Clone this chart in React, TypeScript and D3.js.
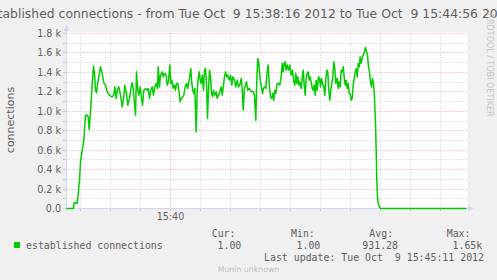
import React from "react";
import * as d3 from "d3";

const W = 497;
const H = 280;

const titleText =
  "established connections - from Tue Oct  9 15:38:16 2012 to Tue Oct  9 15:44:56 2012";
const yAxisLabel = "connections";
const startTime = new Date(2012, 9, 9, 15, 38, 16);
const endTime = new Date(2012, 9, 9, 15, 44, 56);

// seconds after 15:38:16
const sampleOffsets = [
  0, 7, 7.5, 9, 10, 10.7, 11.7, 13, 14, 15.7, 17.3, 19, 20.7, 21.7, 22.7, 24, 25.7, 27, 28, 29, 30, 31,
  32.3, 34, 35.7, 37.3, 39, 40.7, 42.3, 44, 45.7, 47.3, 48.3, 49.7, 50.7, 52.3, 54, 55.7, 57.3, 58.3,
  59.7, 61.3, 63, 64.7, 65.7, 66.7, 68, 69, 70, 71, 72.3, 73.7, 75, 76, 77.3, 79, 80.7, 81.7, 83, 84.3,
  85.7, 87, 88.3, 89.7, 91, 91.7, 93, 94, 95.7, 96.7, 98, 99.7, 100.7, 102, 103.3, 104.3, 105.3, 106.7,
  108, 109, 110, 111.3, 112.7, 113.7, 114.7, 116.3, 117.3, 118.7, 120, 121.3, 122.3, 123.3, 124.3,
  125.3, 126.3, 127.3, 128.3, 129.7, 130.7, 131.7, 132.7, 133.7, 134.7, 135.7, 137, 138, 139, 140, 141,
  142, 143, 144, 145, 146, 147, 148.3, 149.7, 150.7, 152, 153.3, 154.7, 155.7, 157, 158, 159, 160.3,
  161.3, 162.7, 164, 165.3, 166.3, 168, 169.3, 170.7, 172, 173.3, 174.7, 175.7, 176.7, 178, 179, 180,
  181.3, 182.7, 184, 185.3, 186.7, 188, 189.3, 190.3, 191.3, 192.3, 193.7, 194.7, 196, 197, 198, 199.3,
  200.7, 201.7, 202.7, 204, 205.3, 206.3, 207.3, 208.3, 209.3, 210.7, 212, 213.3, 214.7, 215.7, 216.7,
  217.7, 218.7, 219.7, 220.7, 222, 223.3, 224.7, 226, 227.3, 228.3, 229.3, 230.3, 231.3, 232.3, 233.3,
  234.7, 235.7, 236.7, 237.7, 238.7, 239.7, 240.7, 241.7, 242.7, 243.7, 244.7, 245.7, 246.7, 247.7,
  248.7, 249.7, 250.7, 252, 253, 254, 255, 256, 257.3, 258.3, 259.3, 260.3, 261.3, 262.3, 263.3, 264.3,
  265.3, 266.3, 267.3, 268.3, 269.3, 270.7, 271.7, 272.7, 273.7, 274.7, 275.7, 276.7, 277.7, 278.7,
  279.7, 280.7, 281.7, 282.7, 283.7, 284.7, 285.7, 286.7, 287.7, 288.7, 289.7, 290.7, 291.7, 292.7,
  293.7, 294.7, 295.7, 296.7, 298, 299, 300, 301, 302, 303, 304, 305, 306, 307, 308, 309, 309.7, 310.3,
  311, 311.7, 313, 314, 400,
];

const sampleValues = [
  1, 1, 58, 62, 60, 50, 154, 290, 480, 600, 700, 960, 960, 940, 813, 994, 1286, 1464, 1389, 1217, 1190,
  1269, 1354, 1457, 1389, 1293, 1269, 1200, 1176, 1156, 1149, 1166, 1251, 1132, 1217, 1251, 1166, 1045,
  1149, 1269, 1200, 1063, 1132, 1251, 1293, 1235, 1080, 960, 1406, 1235, 1166, 1251, 1132, 1063, 1217,
  1235, 1217, 1235, 1132, 1217, 1251, 1166, 1251, 1286, 1235, 1457, 1251, 1372, 1406, 1354, 1389, 1372,
  1269, 1303, 1475, 1286, 1320, 1235, 1269, 1217, 1286, 1286, 1183, 1097, 1132, 1149, 1166, 1251, 1286,
  1235, 1303, 1354, 1440, 1286, 1217, 1183, 1235, 788, 1217, 1338, 1406, 1320, 1286, 1372, 1217, 1423,
  1440, 1286, 926, 1217, 1423, 1354, 1183, 1149, 1217, 1166, 1200, 1132, 1166, 1200, 1251, 1166, 1269,
  1354, 1406, 1354, 1372, 1320, 1372, 1269, 1354, 1320, 1251, 1320, 1251, 1269, 1338, 1235, 1012, 1235,
  1269, 1303, 1217, 1235, 1217, 1200, 1200, 1166, 909, 1320, 1544, 1492, 1320, 1269, 1183, 1235, 1251,
  1235, 1406, 1475, 1286, 1149, 1132, 1183, 1114, 1217, 1183, 1286, 1286, 1269, 1354, 1492, 1406, 1492,
  1509, 1423, 1475, 1423, 1475, 1372, 1423, 1303, 1269, 1389, 1286, 1354, 1269, 1303, 1235, 1338, 1423,
  1269, 1166, 1338, 1389, 1406, 1320, 1354, 1303, 1235, 1217, 1269, 1166, 1320, 1217, 1354, 1338, 1251,
  1338, 1286, 1251, 1166, 1320, 1423, 1406, 1217, 1114, 1217, 1286, 1354, 1509, 1440, 1286, 1338, 1235,
  1303, 1251, 1423, 1406, 1457, 1354, 1269, 1320, 1235, 1286, 1183, 1183, 1114, 1132, 1269, 1338, 1406,
  1440, 1354, 1492, 1457, 1560, 1492, 1544, 1578, 1612, 1657, 1612, 1578, 1457, 1406, 1303, 1251, 1338,
  1286, 1132, 875, 600, 290, 120, 51, 16, 1, 1,
];

const yMajorTicks = [0, 200, 400, 600, 800, 1000, 1200, 1400, 1600, 1800];
const yTickLabels = ["0.0", "0.2 k", "0.4 k", "0.6 k", "0.8 k", "1.0 k", "1.2 k", "1.4 k", "1.6 k", "1.8 k"];
const yMinorTicks = [100, 300, 500, 700, 900, 1100, 1300, 1500, 1700];
const xLabelFormat = "%H:%M";

const seriesName = "established connections";
const legendHeaders = ["Cur:", "Min:", "Avg:", "Max:"];
const legendValues = ["1.00", "1.00", "931.28", "1.65k"];
const lastUpdate = "Last update: Tue Oct\u00a0\u00a09 15:45:11 2012";
const watermark = "Munin unknown";
const sideText = "RRDTOOL / TOBI OETIKER";

const SANS = "'DejaVu Sans', sans-serif";
const MONO = "'DejaVu Sans Mono', monospace";
const FONT_COLOR = "#606060";
const AXIS_COLOR = "#CFD6F8";
const GRID_COLOR = "#c8c8c8";
const MGRID_COLOR = "#eaa0a0";
const LINE_COLOR = "#00CC00";

const pre = { whiteSpace: "pre" as const };

export default function App() {
  const x = d3.scaleTime().domain([startTime, endTime]).range([66.5, 466.5]);
  const y = d3.scaleLinear().domain([0, 1800]).range([208.5, 33.5]);

  const data = sampleOffsets.map((s, i) => ({
    t: new Date(startTime.getTime() + s * 1000),
    v: sampleValues[i],
  }));
  const line = d3
    .line<{ t: Date; v: number }>()
    .x((d) => x(d.t))
    .y((d) => y(d.v));

  const minorX = d3.timeSecond.every(30)!.range(startTime, endTime);
  const majorX = d3.timeMinute.every(5)!.range(startTime, endTime);
  const majorXSet = new Set(majorX.map((d) => d.getTime()));
  const fmt = d3.timeFormat(xLabelFormat);

  const snap = (v: number) => Math.floor(v) + 0.5;
  const [x0, x1] = x.range();
  const [yb, yt] = y.range();

  const legendHeaderX = [211.7, 291, 369.3, 446.7];
  const legendValueX = [217.5, 296.5, 362.3, 452.5];

  return (
    <svg
      width={W}
      height={H}
      style={{ position: "absolute", left: 0, top: 0, display: "block" }}
    >
      <rect x={0} y={0} width={W} height={H} fill="#F0F0F0" />
      <rect x={66} y={32} width={401.5} height={177} fill="#FFFFFF" />

      {/* minor grid */}
      <g stroke={GRID_COLOR} strokeWidth={1} strokeDasharray="1,2" fill="none">
        {yMinorTicks.map((v) => (
          <line key={"hy" + v} x1={x0} x2={x1} y1={snap(y(v))} y2={snap(y(v))} />
        ))}
        {minorX
          .filter((d) => !majorXSet.has(d.getTime()))
          .map((d) => (
            <line key={"vx" + d.getTime()} x1={snap(x(d))} x2={snap(x(d))} y1={yt} y2={yb} />
          ))}
      </g>
      {/* major grid */}
      <g stroke={MGRID_COLOR} strokeWidth={1} strokeDasharray="1,2" fill="none">
        {yMajorTicks
          .filter((v) => v > 0)
          .map((v) => (
            <line key={"my" + v} x1={x0} x2={x1} y1={snap(y(v))} y2={snap(y(v))} />
          ))}
        {majorX.map((d) => (
          <line key={"mx" + d.getTime()} x1={snap(x(d))} x2={snap(x(d))} y1={yt} y2={yb} />
        ))}
      </g>

      {/* ticks */}
      <g stroke={GRID_COLOR} strokeWidth={1}>
        {yMajorTicks.concat(yMinorTicks).map((v) => (
          <line key={"ty" + v} x1={63} x2={66} y1={snap(y(v))} y2={snap(y(v))} />
        ))}
        {minorX.map((d) => (
          <line key={"tx" + d.getTime()} x1={snap(x(d))} x2={snap(x(d))} y1={209} y2={211} />
        ))}
      </g>

      {/* axes */}
      <g stroke={AXIS_COLOR} strokeWidth={1}>
        <line x1={63} x2={469} y1={yb} y2={yb} />
        <line x1={x0} x2={x0} y1={211} y2={29} />
      </g>
      <path d={`M${x0 - 3},31 L${x0 + 3},31 L${x0},25 Z`} fill={AXIS_COLOR} />
      <path d={`M468,${yb - 3} L468,${yb + 3} L474,${yb} Z`} fill={AXIS_COLOR} />

      {/* data line */}
      <path d={line(data) ?? ""} fill="none" stroke={LINE_COLOR} strokeWidth={1.5} strokeLinejoin="round" />

      {/* title */}
      <text
        x={248.5}
        y={17.5}
        textAnchor="middle"
        fontFamily={SANS}
        fontSize={12.4}
        fill={FONT_COLOR}
        xmlSpace="preserve"
        style={pre}
      >
        {titleText}
      </text>

      {/* y tick labels */}
      <g fontFamily={SANS} fontSize={9.6} fill={FONT_COLOR} textAnchor="end">
        {yMajorTicks.map((v, i) => (
          <text key={"yl" + v} x={61} y={snap(y(v)) + 3.3}>
            {yTickLabels[i]}
          </text>
        ))}
      </g>
      {/* x tick labels */}
      <g fontFamily={SANS} fontSize={9.6} fill={FONT_COLOR} textAnchor="middle">
        {majorX.map((d) => (
          <text key={"xl" + d.getTime()} x={x(d)} y={220}>
            {fmt(d)}
          </text>
        ))}
      </g>

      {/* y axis label */}
      <text
        transform="translate(14,120) rotate(-90)"
        textAnchor="middle"
        fontFamily={SANS}
        fontSize={11}
        fill={FONT_COLOR}
      >
        {yAxisLabel}
      </text>

      {/* side watermark */}
      <text
        transform="translate(486.5,13.5) rotate(90)"
        fontFamily={SANS}
        fontSize={8}
        fill="#c4c4c4"
      >
        {sideText}
      </text>

      {/* legend */}
      <g fontFamily={MONO} fontSize={9.9} fill={FONT_COLOR}>
        {legendHeaders.map((h, i) => (
          <text key={h} x={legendHeaderX[i]} y={236.7}>
            {h}
          </text>
        ))}
        <rect x={14} y={242} width={6} height={6} fill={LINE_COLOR} />
        <text x={26} y={249}>
          {seriesName}
        </text>
        {legendValues.map((v, i) => (
          <text key={"lv" + i} x={legendValueX[i]} y={249}>
            {v}
          </text>
        ))}
        <text x={484} y={261} textAnchor="end" xmlSpace="preserve" style={pre}>
          {lastUpdate}
        </text>
      </g>

      <text
        x={248.5}
        y={271.5}
        textAnchor="middle"
        fontFamily={SANS}
        fontSize={7.8}
        fill="#c0c0c0"
      >
        {watermark}
      </text>
    </svg>
  );
}
